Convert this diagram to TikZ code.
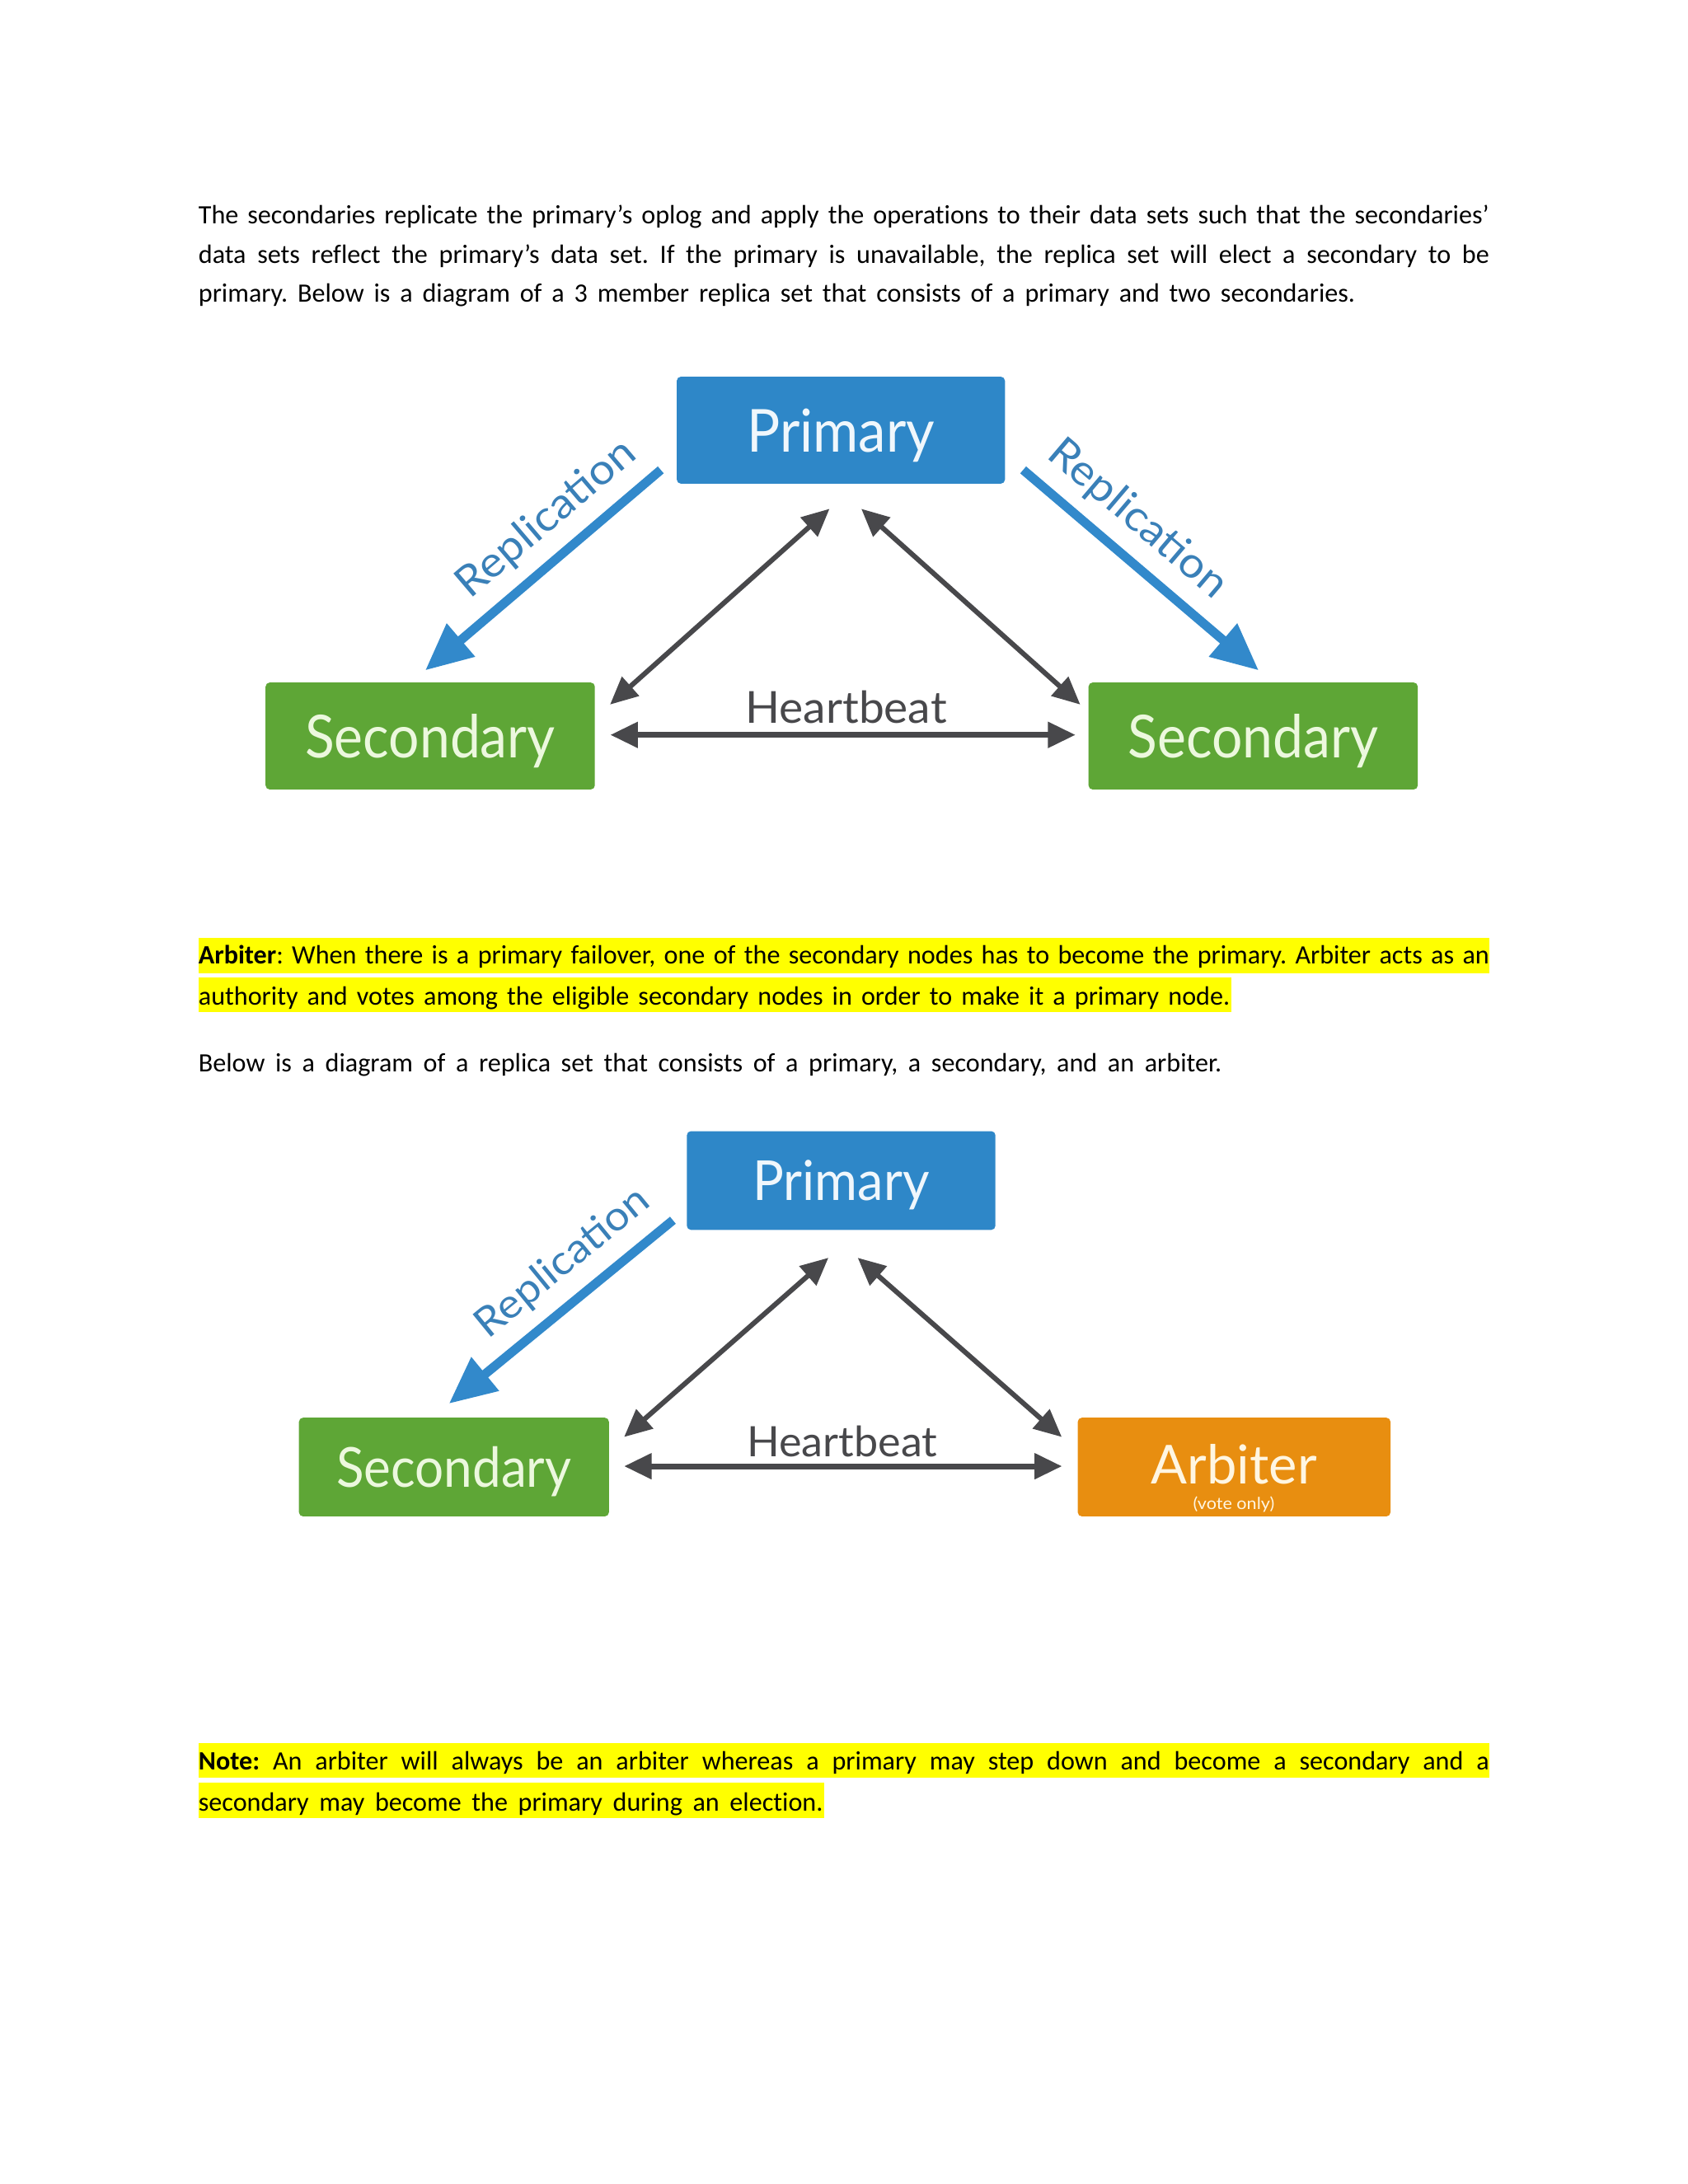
\documentclass[tikz,border=0pt]{standalone}
\usepackage{fontspec}
\setmainfont{Carlito}[Ligatures=CommonOff]
\newfontfamily\diafont{Lato}
\usepackage{graphicx}
\usetikzlibrary{arrows.meta}
\definecolor{pblue}{RGB}{46,135,200}
\definecolor{sgreen}{RGB}{94,166,54}
\definecolor{aorange}{RGB}{232,142,16}
\definecolor{hbgray}{RGB}{72,72,75}
\definecolor{repblue}{RGB}{50,137,203}
\definecolor{reptext}{RGB}{58,128,184}
\definecolor{hiyellow}{RGB}{255,255,0}
\definecolor{primtext}{RGB}{240,247,252}
\definecolor{sectext}{RGB}{236,248,222}
\definecolor{arbtext}{RGB}{255,246,226}
\newsavebox\jlbox
\newcommand\jline[2]{\sbox\jlbox{#2}\ifdim\wd\jlbox>#1\relax\resizebox{#1}{\ht\jlbox}{\usebox\jlbox}\else\makebox[#1][s]{#2}\fi}
\newcommand\fitw[2]{\resizebox{#1}{\height}{#2}}
\frenchspacing
\begin{document}
\begin{tikzpicture}[x=1pt,y=-1pt,
  every node/.style={inner sep=0pt,outer sep=0pt},
  bodyline/.style={anchor=base west,font=\fontsize{9.6}{12}\selectfont},
  nodebox/.style={rectangle,rounded corners=1.5pt,text height=15.6pt,text depth=0pt},
  pbox/.style={nodebox,fill=pblue,text=primtext},
  sbox/.style={nodebox,fill=sgreen,text=sectext},
  abox/.style={nodebox,fill=aorange,text=arbtext},
  hblabel/.style={anchor=base,text=hbgray},
  replabel/.style={text=reptext},
  reparrow/.style={draw=repblue,line width=3.3pt,-{Triangle[length=17pt,width=15pt]}},
  hbarrow/.style={draw=hbgray,line width=1.8pt,{Triangle[length=10pt,width=9pt]}-{Triangle[length=10pt,width=9pt]}},
  hbflat/.style={hbarrow,line width=2.1pt}
]
\fill[white] (0,0) rectangle (612,792);
\useasboundingbox (0,0) rectangle (612,792);

% ---------- paragraph 1 ----------
\node[bodyline] (p1a) at (72,81.2) {\jline{468pt}{The secondaries replicate the primary’s oplog and apply the operations to their data sets such that the secondaries’}};
\node[bodyline] (p1b) at (72,95.4) {\jline{468pt}{data sets reflect the primary’s data set. If the primary is unavailable, the replica set will elect a secondary to be}};
\node[bodyline] (p1c) at (72,109.6) {\jline{419.4pt}{primary. Below is a diagram of a 3 member replica set that consists of a primary and two secondaries.}};

% ---------- diagram 1 ----------
\node[pbox,minimum width=119pt,minimum height=38.8pt,font=\diafont\fontsize{21.5}{24}\selectfont] (P1) at (304.9,156) {\fitw{68pt}{Primary}};
\node[sbox,minimum width=119.4pt,minimum height=38.8pt,font=\diafont\fontsize{21.5}{24}\selectfont] (S1) at (156,266.9) {\fitw{90.7pt}{Secondary}};
\node[sbox,minimum width=119.4pt,minimum height=38.8pt,font=\diafont\fontsize{21.5}{24}\selectfont] (S2) at (454.4,266.9) {\fitw{90.7pt}{Secondary}};

\coordinate (r1s) at (239.6,170.4);
\coordinate (r1e) at (154.2,243.1);
\coordinate (r2s) at (371.0,170.4);
\coordinate (r2e) at (456.4,243.1);
\draw[reparrow] (r1s) -- (r1e);
\draw[reparrow] (r2s) -- (r2e);
\node[replabel,rotate=40.4,font=\diafont\fontsize{15.3}{18}\selectfont] (R1) at (198.2,188.3) {\fitw{80pt}{Replication}};
\node[replabel,rotate=-40.4,font=\diafont\fontsize{15.3}{18}\selectfont] (R2) at (412.4,188.3) {\fitw{80pt}{Replication}};

\coordinate (h1a) at (300.8,184.5);
\coordinate (h1b) at (221.2,255.5);
\coordinate (h1c) at (312.3,184.5);
\coordinate (h1d) at (391.7,255.5);
\coordinate (h1e) at (221.3,266.5);
\coordinate (h1f) at (390.0,266.5);
\draw[hbarrow] (h1a) -- (h1b);
\draw[hbarrow] (h1c) -- (h1d);
\draw[hbflat] (h1e) -- (h1f);
\node[hblabel,font=\diafont\fontsize{16}{18}\selectfont] (HB1) at (306.8,262.3) {\fitw{73pt}{Heartbeat}};

% ---------- paragraph 2 ----------
\fill[hiyellow] (72,340.0) rectangle (540,352.9);
\fill[hiyellow] (72,354.4) rectangle (446.5,366.9);
\node[bodyline] (p2a) at (72,349.6) {\jline{468pt}{\textbf{Arbiter}: When there is a primary failover, one of the secondary nodes has to become the primary. Arbiter acts as an}};
\node[bodyline] (p2b) at (72,364.6) {\jline{374pt}{authority and votes among the eligible secondary nodes in order to make it a primary node.}};

% ---------- paragraph 3 ----------
\node[bodyline] (p3) at (72,388.7) {\jline{371pt}{Below is a diagram of a replica set that consists of a primary, a secondary, and an arbiter.}};

% ---------- diagram 2 ----------
\node[pbox,minimum width=111.9pt,minimum height=35.8pt,text height=14.5pt,font=\diafont\fontsize{20}{22}\selectfont] (P2) at (305,428.1) {\fitw{64pt}{Primary}};
\node[sbox,minimum width=112.4pt,minimum height=35.8pt,text height=14.5pt,font=\diafont\fontsize{20}{22}\selectfont] (S3) at (164.6,532) {\fitw{85.2pt}{Secondary}};
\node[abox,minimum width=113.4pt,minimum height=35.8pt,text height=14pt,text depth=1.8pt,font=\diafont\fontsize{19.5}{22}\selectfont] (A1) at (447.5,532) {\fitw{60pt}{Arbiter}};
\node[anchor=base,text=arbtext,font=\diafont\fontsize{6}{7}\selectfont] (VO) at (447.4,547.4) {\fitw{29.5pt}{(vote only)}};

\coordinate (r3s) at (244,442.5);
\coordinate (r3e) at (162.8,509);
\draw[reparrow] (r3s) -- (r3e);
\node[replabel,rotate=39.3,font=\diafont\fontsize{14.7}{17}\selectfont] (R3) at (204.1,458.1) {\fitw{77pt}{Replication}};

\coordinate (h2a) at (300.4,456.1);
\coordinate (h2b) at (226.3,521.1);
\coordinate (h2c) at (311.0,456.1);
\coordinate (h2d) at (385.0,521.1);
\coordinate (h2e) at (226.3,531.7);
\coordinate (h2f) at (385.1,531.7);
\draw[hbarrow] (h2a) -- (h2b);
\draw[hbarrow] (h2c) -- (h2d);
\draw[hbflat] (h2e) -- (h2f);
\node[hblabel,font=\diafont\fontsize{15.2}{17}\selectfont] (HB2) at (305.4,528.3) {\fitw{69pt}{Heartbeat}};

% ---------- note ----------
\fill[hiyellow] (72,632.1) rectangle (540,644.75);
\fill[hiyellow] (72,646.5) rectangle (299,659.3);
\node[bodyline] (p4a) at (72,641.75) {\jline{468pt}{\textbf{Note:} An arbiter will always be an arbiter whereas a primary may step down and become a secondary and a}};
\node[bodyline] (p4b) at (72,656.7) {\jline{226.4pt}{secondary may become the primary during an election.}};
\end{tikzpicture}
\end{document}
